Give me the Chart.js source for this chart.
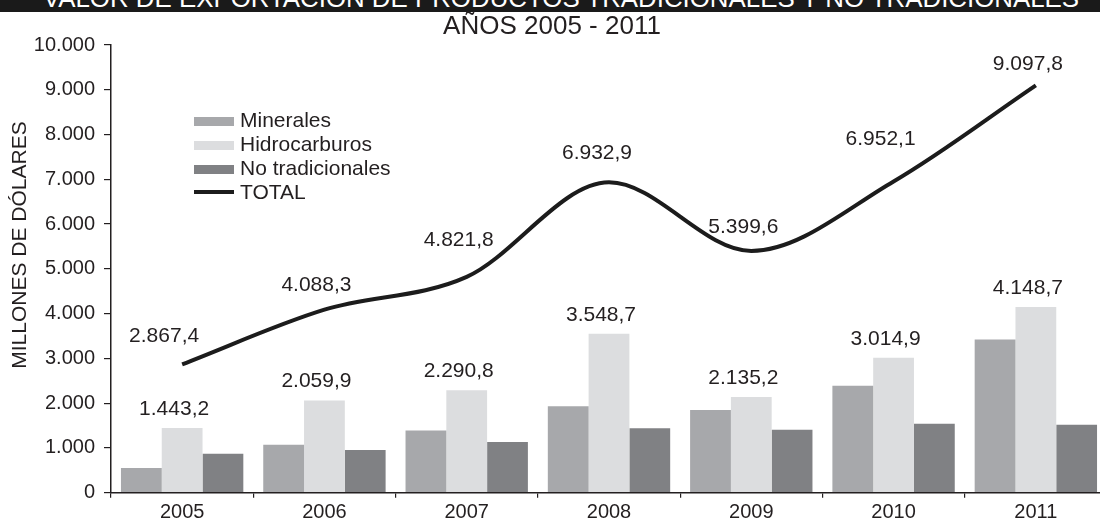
<!DOCTYPE html>
<html>
<head>
<meta charset="utf-8">
<script src="https://cdn.jsdelivr.net/npm/chart.js@4/dist/chart.umd.min.js"></script>
<style>
    body { margin: 0; background: #fff; overflow: hidden; font-family: 'Liberation Sans', Arial, sans-serif; color: #231f20; }
    #wrap { position: relative; width: 1100px; height: 524px; overflow: hidden; }
    #chart { position: absolute; left: 0; top: 0; }
    #topbar { position: absolute; left: 0; top: 0; width: 1100px; height: 12px; background: #1a1a1a; overflow: hidden; }
    #topbar span { position: absolute; left: 561px; top: -15px; font-size: 26px; line-height: 26px; color: #fff; white-space: nowrap; transform-origin: 0 0; }
    #subtitle { position: absolute; left: 0; width: 1104px; top: 12px; text-align: center; font-size: 26px; line-height: 26px; }
    #legend { position: absolute; left: 194px; top: 108px; font-size: 21px; }
    #legend .row { height: 24px; line-height: 24px; display: flex; align-items: center; }
    #legend .sw { width: 40px; height: 9px; margin-right: 6px; margin-top: 3px; }
    #legend .ln { width: 40px; height: 4px; margin-right: 6px; background: #1c1c1c; }
</style>
</head>
<body>
<div id="wrap">
    <canvas id="chart" width="1108" height="524"></canvas>
    <div id="topbar"><span id="toptext">VALOR DE EXPORTACIÓN DE PRODUCTOS TRADICIONALES Y NO TRADICIONALES</span></div>
    <div id="subtitle">AÑOS 2005 - 2011</div>
    <div id="legend"></div>
</div>
<script>
// data (millones de dólares)
const years = ['2005', '2006', '2007', '2008', '2009', '2010', '2011'];
const minerales = [550, 1070, 1390, 1930, 1850, 2390, 3420];
const hidrocarburos = [1443.2, 2059.9, 2290.8, 3548.7, 2135.2, 3014.9, 4148.7];
const noTradicionales = [870, 955, 1135, 1440, 1405, 1540, 1520];
const total = [2867.4, 4088.3, 4821.8, 6932.9, 5399.6, 6952.1, 9097.8];
const yTicks = [0, 1000, 2000, 3000, 4000, 5000, 6000, 7000, 8000, 9000, 10000];

// label placement relative to the point / bar, in pixels
const totalLabelLift = [28, 24, 37, 29, 24, 42, 21];
const totalLabelShift = [-18, -8, -8, -12, -8, -13, -8];
const barLabelShift = -8;

const FONT = "'Liberation Sans', Arial, sans-serif";
const TEXT = '#231f20';
const colors = { minerales: '#a7a8ab', hidro: '#dcdddf', noTrad: '#808184', total: '#1c1c1c' };

function fmt(v, dec) {
    const parts = v.toFixed(dec).split('.');
    const ent = parts[0].replace(/\B(?=(\d{3})+(?!\d))/g, '.');
    return parts[1] ? ent + ',' + parts[1] : ent;
}

// stretch the cut-off banner text across the bar
(function () {
    const el = document.getElementById('toptext');
    const c = document.createElement('canvas').getContext('2d');
    c.font = '26px ' + FONT;
    const w = c.measureText(el.textContent).width;
    el.style.transform = 'scaleX(' + (1038 / w) + ') translateX(-50%)';
})();

const labelsPlugin = {
    id: 'valueLabels',
    afterDatasetsDraw(chart) {
        const ctx = chart.ctx;
        ctx.save();
        ctx.font = '21px ' + FONT;
        ctx.fillStyle = TEXT;
        ctx.textAlign = 'center';
        ctx.textBaseline = 'middle';
        chart.getDatasetMeta(1).data.forEach((bar, i) => {
            ctx.fillText(fmt(hidrocarburos[i], 1), bar.x + barLabelShift, bar.y - 19);
        });
        chart.getDatasetMeta(3).data.forEach((pt, i) => {
            ctx.fillText(fmt(total[i], 1), pt.x + totalLabelShift[i], pt.y - totalLabelLift[i]);
        });
        // y axis title
        ctx.font = '21px ' + FONT;
        ctx.translate(20, 245);
        ctx.rotate(-Math.PI / 2);
        ctx.fillText('MILLONES DE DÓLARES', 0, 0);
        ctx.restore();
    }
};

new Chart(document.getElementById('chart'), {
    type: 'bar',
    data: {
        labels: years,
        datasets: [
            { label: 'Minerales', data: minerales, backgroundColor: colors.minerales, order: 2 },
            { label: 'Hidrocarburos', data: hidrocarburos, backgroundColor: colors.hidro, order: 2 },
            { label: 'No tradicionales', data: noTradicionales, backgroundColor: colors.noTrad, order: 2 },
            {
                type: 'line', label: 'TOTAL', data: total, borderColor: colors.total, borderWidth: 4,
                pointRadius: 0, cubicInterpolationMode: 'monotone', fill: false, order: 1
            }
        ]
    },
    options: {
        responsive: false,
        animation: false,
        layout: { padding: { top: 45, right: 1, bottom: 0, left: 0 } },
        datasets: { bar: { categoryPercentage: 0.86, barPercentage: 1 } },
        plugins: { legend: { display: false }, tooltip: { enabled: false }, title: { display: false } },
        scales: {
            x: {
                grid: { drawOnChartArea: false, tickLength: 5, color: TEXT, lineWidth: 1.2 },
                border: { color: TEXT, width: 1.5 },
                ticks: { color: TEXT, font: { family: FONT, size: 20 }, padding: 3, maxRotation: 0 },
                afterFit(scale) { scale.height = 31.3; }
            },
            y: {
                min: 0,
                max: 10000,
                afterBuildTicks(scale) { scale.ticks = yTicks.map(v => ({ value: v })); },
                grid: { drawOnChartArea: false, tickLength: 7, color: TEXT, lineWidth: 1.2 },
                border: { color: TEXT, width: 1.5 },
                ticks: { color: TEXT, font: { family: FONT, size: 20 }, padding: 9, callback: v => fmt(v, 0) },
                afterFit(scale) { scale.width = 111; }
            }
        }
    },
    plugins: [labelsPlugin]
});

// legend inside the plot, as in the original
const legendItems = [
    { name: 'Minerales', color: colors.minerales },
    { name: 'Hidrocarburos', color: colors.hidro },
    { name: 'No tradicionales', color: colors.noTrad },
    { name: 'TOTAL', line: true }
];
const legendEl = document.getElementById('legend');
legendItems.forEach(it => {
    const row = document.createElement('div');
    row.className = 'row';
    const sw = document.createElement('span');
    if (it.line) { sw.className = 'ln'; } else { sw.className = 'sw'; sw.style.background = it.color; }
    const txt = document.createElement('span');
    txt.textContent = it.name;
    row.appendChild(sw);
    row.appendChild(txt);
    legendEl.appendChild(row);
});
</script>
</body>
</html>
